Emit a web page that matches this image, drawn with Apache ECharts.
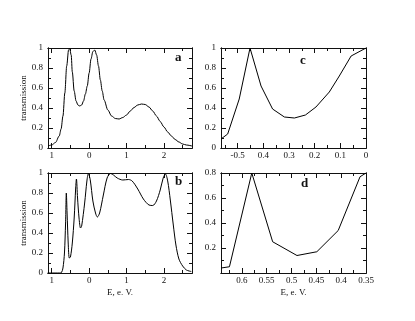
<!DOCTYPE html>
<html>
<head>
<meta charset="utf-8">
<script src="https://cdn.jsdelivr.net/npm/echarts@6/dist/echarts.min.js"></script>
<style>
  html, body { margin: 0; padding: 0; background: #fff; }
  #chart { width: 415px; height: 321px; }
</style>
</head>
<body>
<div id="chart"></div>
<script>
// panel a: energy, transmission
const aX = [-1.1, -1.0, -0.9, -0.8, -0.75, -0.7, -0.65, -0.6, -0.55, -0.52, -0.48, -0.45, -0.4, -0.35, -0.3, -0.25, -0.2, -0.15, -0.1, -0.05, 0, 0.05, 0.1, 0.15, 0.2, 0.25, 0.3, 0.35, 0.4, 0.5, 0.6, 0.7, 0.8, 0.9, 1.0, 1.1, 1.2, 1.3, 1.4, 1.5, 1.6, 1.7, 1.8, 1.9, 2.0, 2.1, 2.2, 2.3, 2.4, 2.5, 2.6, 2.75];
const aY = [0.02, 0.03, 0.055, 0.12, 0.19, 0.32, 0.55, 0.82, 0.98, 0.995, 0.93, 0.76, 0.57, 0.47, 0.43, 0.42, 0.43, 0.47, 0.54, 0.62, 0.75, 0.89, 0.965, 0.98, 0.93, 0.82, 0.68, 0.57, 0.48, 0.38, 0.32, 0.295, 0.29, 0.305, 0.33, 0.37, 0.405, 0.43, 0.44, 0.435, 0.41, 0.37, 0.32, 0.265, 0.21, 0.16, 0.12, 0.085, 0.06, 0.04, 0.03, 0.02];

// panel b
const bX = [-1.11, -0.8, -0.74, -0.7, -0.66, -0.63, -0.61, -0.59, -0.56, -0.53, -0.5, -0.45, -0.4, -0.36, -0.34, -0.31, -0.27, -0.23, -0.2, -0.12, -0.06, -0.02, 0.03, 0.1, 0.17, 0.22, 0.28, 0.38, 0.48, 0.57, 0.65, 0.75, 0.9, 1.05, 1.15, 1.3, 1.45, 1.6, 1.7, 1.8, 1.9, 1.98, 2.04, 2.1, 2.17, 2.25, 2.32, 2.4, 2.5, 2.6, 2.73];
const bY = [0, 0, 0.005, 0.05, 0.2, 0.5, 0.8, 0.6, 0.3, 0.15, 0.16, 0.3, 0.55, 0.85, 0.94, 0.75, 0.55, 0.45, 0.47, 0.7, 0.92, 0.995, 0.93, 0.72, 0.6, 0.56, 0.6, 0.78, 0.95, 0.995, 0.98, 0.95, 0.93, 0.935, 0.92, 0.84, 0.74, 0.68, 0.675, 0.72, 0.83, 0.95, 0.99, 0.92, 0.73, 0.48, 0.28, 0.14, 0.07, 0.03, 0.015];

// panel c
const cX = [-0.565, -0.539, -0.494, -0.452, -0.409, -0.364, -0.318, -0.279, -0.236, -0.195, -0.143, -0.104, -0.058, 0];
const cY = [0.09, 0.14, 0.49, 1.0, 0.62, 0.39, 0.31, 0.30, 0.33, 0.41, 0.56, 0.72, 0.92, 1.0];

// panel d
const dX = [-0.642, -0.625, -0.58, -0.538, -0.489, -0.449, -0.406, -0.362, -0.35];
const dY = [0.04, 0.05, 0.8, 0.25, 0.14, 0.17, 0.34, 0.77, 0.8];

// tick labels as printed
const abTickVals = [-1, 0, 1, 2];
const abTickText = ['1', '0', '1', '2'];
const cTickVals = [-0.5, -0.4, -0.3, -0.2, -0.1, 0];
const cTickText = ['-0.5', '0.4', '0.3', '0.2', '0.1', '0'];
const dTickVals = [-0.6, -0.55, -0.5, -0.45, -0.4, -0.35];
const dTickText = ['0.6', '0.55', '0.5', '0.45', '0.4', '0.35'];
const yTickVals = [0, 0.2, 0.4, 0.6, 0.8, 1];
const dyTickVals = [0.2, 0.4, 0.6, 0.8];

const abMinor = [-1, -0.5, 0, 0.5, 1, 1.5, 2, 2.5];
const cMinor = [-0.55, -0.5, -0.45, -0.4, -0.35, -0.3, -0.25, -0.2, -0.15, -0.1, -0.05, 0];
const dMinor = [-0.625, -0.6, -0.575, -0.55, -0.525, -0.5, -0.475, -0.45, -0.425, -0.4, -0.375, -0.35];
const yMinor = [0.1, 0.2, 0.3, 0.4, 0.5, 0.6, 0.7, 0.8, 0.9];
const dyMinor = [0.1, 0.2, 0.3, 0.4, 0.5, 0.6, 0.7];

const font = 'Liberation Serif';
const ink = '#111';

const grids = [
  { left: 48, top: 48, width: 144, height: 100 },
  { left: 48, top: 173, width: 144, height: 100 },
  { left: 221, top: 48, width: 145, height: 100 },
  { left: 221, top: 173, width: 145, height: 100 }
];

function axis(kind, g, pos, min, max, ticks, len, labels, texts, extra) {
  const a = {
    type: 'value', gridIndex: g, position: pos, min: min, max: max,
    axisLine: { show: true, onZero: false, lineStyle: { color: ink, width: 1 } },
    axisTick: { show: true, inside: true, length: len, customValues: ticks, lineStyle: { color: ink, width: 1 } },
    axisLabel: { show: false },
    splitLine: { show: false }
  };
  if (labels) {
    a.axisLabel = {
      show: true, customValues: labels, color: ink, fontFamily: font, fontSize: 9,
      margin: kind === 'x' ? 3 : 5,
      formatter: v => {
        const i = labels.findIndex(t => Math.abs(t - v) < 1e-6);
        return i >= 0 ? texts[i] : '';
      }
    };
  }
  return Object.assign(a, extra || {});
}

const xAxes = [];
const yAxes = [];
const xr = [[-1.1, 2.75], [-1.1, 2.75], [-0.565, 0], [-0.642, -0.35]];
const yr = [[0, 1], [0, 1], [0, 1], [0, 0.8]];
const xMaj = [abTickVals, abTickVals, cTickVals, dTickVals];
const xTxt = [abTickText, abTickText, cTickText, dTickText];
const xMin = [abMinor, abMinor, cMinor, dMinor];
const yMaj = [yTickVals, yTickVals, yTickVals, dyTickVals];
const yMin = [yMinor, yMinor, yMinor, dyMinor];

const xName = { name: 'E, e. V.', nameLocation: 'middle', nameGap: 15,
  nameTextStyle: { fontFamily: font, fontSize: 9, color: ink } };
const yName = { name: 'transmission', nameLocation: 'middle', nameGap: 17, nameRotate: 90,
  nameTextStyle: { fontFamily: font, fontSize: 9, color: ink } };

const series = [];
const datas = [[aX, aY], [bX, bY], [cX, cY], [dX, dY]];
for (let g = 0; g < 4; g++) {
  const xi = xAxes.length;
  xAxes.push(axis('x', g, 'bottom', xr[g][0], xr[g][1], xMaj[g], 5, xMaj[g], xTxt[g],
    (g === 1 || g === 3) ? xName : null));
  xAxes.push(axis('x', g, 'bottom', xr[g][0], xr[g][1], xMin[g], 3));
  xAxes.push(axis('x', g, 'top', xr[g][0], xr[g][1], xMaj[g], 5));
  xAxes.push(axis('x', g, 'top', xr[g][0], xr[g][1], xMin[g], 3));
  const yi = yAxes.length;
  yAxes.push(axis('y', g, 'left', yr[g][0], yr[g][1], yMaj[g], 5, yMaj[g],
    yMaj[g].map(v => String(v)), (g < 2) ? yName : null));
  yAxes.push(axis('y', g, 'left', yr[g][0], yr[g][1], yMin[g], 3));
  yAxes.push(axis('y', g, 'right', yr[g][0], yr[g][1], yMaj[g], 5));
  yAxes.push(axis('y', g, 'right', yr[g][0], yr[g][1], yMin[g], 3));
  const [xs, ys] = datas[g];
  const s = {
    type: 'line', xAxisIndex: xi, yAxisIndex: yi,
    data: xs.map((x, i) => [x, ys[i]]),
    smooth: g < 2 ? 0.3 : false,
    showSymbol: false, symbol: 'none',
    lineStyle: { color: '#000', width: 1 },
    clip: true, animation: false
  };
  if (g === 0) s.smoothMonotone = 'x';
  series.push(s);
}

const letter = (txt, x, y) => ({
  type: 'text', left: x, top: y,
  style: { text: txt, fontFamily: font, fontSize: 13, fontWeight: 'bold', fill: ink }
});

const chart = echarts.init(document.getElementById('chart'), null, { renderer: 'canvas' });
chart.setOption({
  animation: false,
  backgroundColor: '#fff',
  grid: grids,
  xAxis: xAxes,
  yAxis: yAxes,
  series: series,
  graphic: [
    letter('a', 175, 51),
    letter('b', 175, 175),
    letter('c', 300, 54),
    letter('d', 301, 177)
  ]
});
</script>
</body>
</html>
